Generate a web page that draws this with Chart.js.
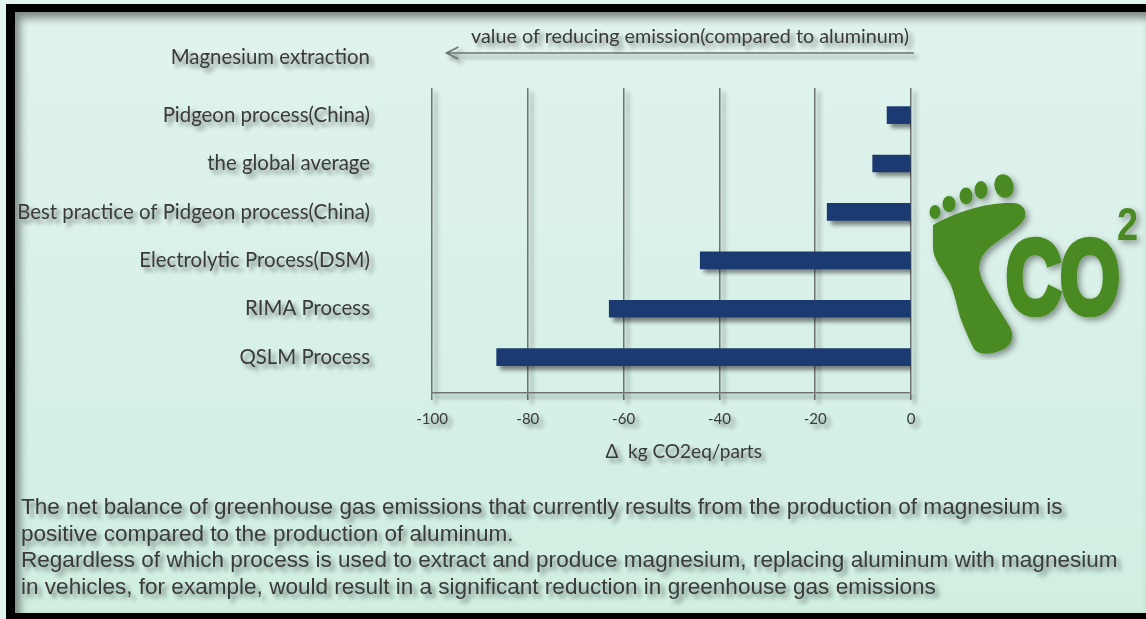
<!DOCTYPE html>
<html>
<head>
<meta charset="utf-8">
<title>Magnesium extraction</title>
<script src="https://cdn.jsdelivr.net/npm/chart.js@4"></script>
<style>
    html, body { margin: 0; padding: 0; background: #e1f3ef; overflow: hidden; }
    #frame {
        position: absolute; left: 6px; top: 4px; width: 1140px; height: 615px;
        border-left: 9px solid #000; border-top: 8px solid #000; border-bottom: 6px solid #000;
        box-sizing: border-box;
        background: linear-gradient(#e1f3ef, #d0efe1);
        box-shadow: inset 5px 6px 8px rgba(0, 0, 0, 0.45);
    }
    #historyGraph { position: absolute; left: 0; top: 0; }
    .note {
        position: absolute; color: #3a3a3a; white-space: nowrap;
        text-shadow: 4px 4px 4px rgba(0, 0, 0, 0.45);
    }
    #heading { right: 776px; top: 44px; font: 20.4px Lato, sans-serif; }
    #caption { left: 471px; top: 23px; font: 19.8px Lato, sans-serif; }
    #summary { left: 21px; top: 494px; font: 22.55px/26.6px "Liberation Sans", sans-serif; }
    #logo { position: absolute; left: 925px; top: 170px; }
</style>
</head>
<body>
<div id="frame"></div>
<canvas id="historyGraph" width="1146" height="619"></canvas>
<div class="note" id="heading">Magnesium extraction</div>
<div class="note" id="caption">value of reducing emission(compared to aluminum)</div>
<div class="note" id="summary">The net balance of greenhouse gas emissions that currently results from the production of magnesium is<br>positive compared to the production of aluminum.<br>Regardless of which process is used to extract and produce magnesium, replacing aluminum with magnesium<br>in vehicles, for example, would result in a significant reduction in greenhouse gas emissions</div>

<svg id="logo" width="221" height="190" viewBox="0 0 221 190">
    <defs>
        <filter id="soft" x="-20%" y="-20%" width="150%" height="150%">
            <feDropShadow dx="3" dy="3" stdDeviation="3" flood-color="#000" flood-opacity="0.4"/>
        </filter>
    </defs>
    <g fill="#4a8a20" filter="url(#soft)">
        <ellipse cx="10" cy="42" rx="5.5" ry="7"/>
        <ellipse cx="24" cy="34" rx="6.5" ry="8"/>
        <ellipse cx="41" cy="26" rx="6.5" ry="8.5"/>
        <ellipse cx="56" cy="20" rx="6.5" ry="9"/>
        <ellipse cx="79" cy="16" rx="9.5" ry="12" transform="rotate(-15 79 16)"/>
        <path d="M8 55 C30 42 62 32 88 33 C97 33 102 40 100 47 C97 57 75 68 62 80 C55 88 53 95 55 103 C57 115 75 140 85 157 C90 168 88 178 68 183 C56 185 50 182 48 177 C42 165 38 155 35 147 C31 132 29 122 25 113 C18 100 8 90 8 77 Z"/>
        <text transform="translate(81 143) scale(0.98 1.34)" font-family="Liberation Sans" font-weight="bold" font-size="78" letter-spacing="-1" stroke="#4a8a20" stroke-width="5">CO</text>
        <text transform="translate(192 70) scale(1.15 1.4)" font-family="Liberation Sans" font-weight="bold" font-size="33">2</text>
    </g>
</svg>

<script>
// Values of the bars, top to bottom
let categories = ["Pidgeon process(China)", "the global average", "Best practice of Pidgeon process(China)", "Electrolytic Process(DSM)", "RIMA Process", "QSLM Process"];
let emissionValues = [-5, -8, -17.5, -44, -63, -86.5];
let xTickValues = [-100, -80, -60, -40, -20, 0];

let barColor = "#1c3a72";
let lineColor = "#6f7473";
let textColor = "#3a3a3a";

// Everything on the canvas gets the same soft drop shadow, the arrow is drawn on top of it
const shadowPlugin = {
    id: "dropShadow",
    beforeDraw: function (chart) {
        var ctx = chart.ctx;
        ctx.save();
        ctx.shadowColor = "rgba(0, 0, 0, 0.45)";
        ctx.shadowBlur = 4;
        ctx.shadowOffsetX = 4;
        ctx.shadowOffsetY = 4;
    },
    afterDraw: function (chart) {
        var ctx = chart.ctx;
        var xScale = chart.scales.x;
        var left = xScale.getPixelForValue(-97);
        var right = xScale.getPixelForValue(0) + 3;
        ctx.strokeStyle = lineColor;
        ctx.lineWidth = 1.5;
        ctx.beginPath();
        ctx.moveTo(right, 53);
        ctx.lineTo(left, 53);
        ctx.moveTo(left + 12, 47);
        ctx.lineTo(left, 53);
        ctx.lineTo(left + 12, 59);
        ctx.stroke();
        ctx.restore();
    }
};

function createChart() {
    var rows = emissionValues.map(function (value, i) {
        return { x: value, y: i };
    });

    new Chart(document.getElementById("historyGraph").getContext("2d"), {
        type: "bar",
        data: {
            datasets: [{
                label: "Amount",
                backgroundColor: barColor,
                data: rows,
                barThickness: 17
            }]
        },
        plugins: [shadowPlugin],
        options: {
            indexAxis: "y",
            responsive: false,
            animation: false,
            layout: {
                padding: { left: 0, right: 235, top: 88, bottom: 156 }
            },
            plugins: {
                legend: { display: false },
                tooltip: { enabled: false }
            },
            scales: {
                x: {
                    type: "linear",
                    min: -100,
                    max: 0,
                    afterBuildTicks: function (axis) {
                        axis.ticks = xTickValues.map(function (v) { return { value: v }; });
                    },
                    afterFit: function (axis) { axis.height = 70; },
                    grid: { color: lineColor, lineWidth: 1.5, tickLength: 7 },
                    border: { display: true, color: lineColor, width: 1.5 },
                    ticks: {
                        color: textColor,
                        maxRotation: 0,
                        padding: 10,
                        font: { family: "Lato", size: 15 }
                    },
                    title: {
                        display: true,
                        // leading spaces push the title a little right of the axis centre
                        text: "     \u0394  kg CO2eq/parts",
                        color: textColor,
                        padding: { top: 3, bottom: 0 },
                        font: { family: "Lato", size: 19 }
                    }
                },
                y: {
                    type: "linear",
                    reverse: true,
                    offset: false,
                    min: -0.56,
                    max: 5.74,
                    afterBuildTicks: function (axis) {
                        axis.ticks = categories.map(function (c, i) { return { value: i }; });
                    },
                    afterFit: function (axis) { axis.width = 432; },
                    grid: { display: false },
                    border: { display: false },
                    ticks: {
                        color: textColor,
                        padding: 54,
                        font: { family: "Lato", size: 20.4 },
                        callback: function (value) { return categories[value]; }
                    }
                }
            }
        }
    });
}

createChart();
</script>
</body>
</html>
